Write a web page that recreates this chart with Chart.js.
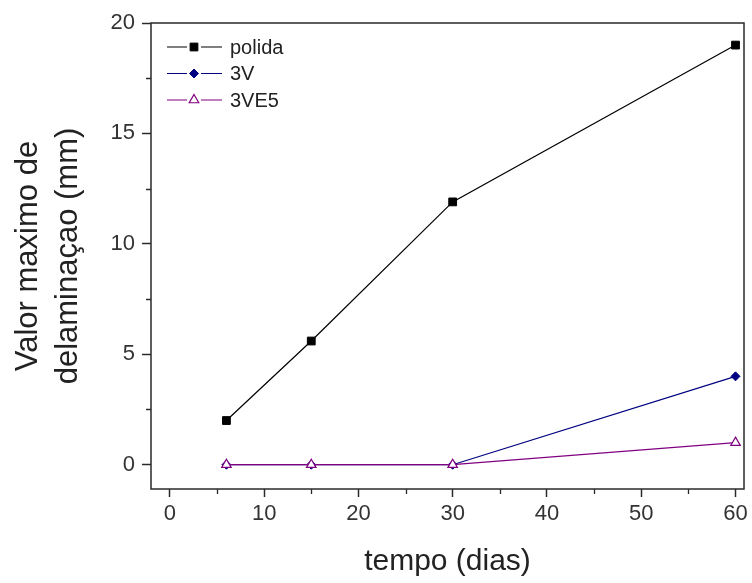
<!DOCTYPE html>
<html>
<head>
<meta charset="utf-8">
<script src="https://cdn.jsdelivr.net/npm/chart.js@4.4.1/dist/chart.umd.min.js"></script>
<style>
html,body{margin:0;padding:0;background:#fff;}
#wrap{width:752px;height:583px;position:relative;}
</style>
</head>
<body>
<div id="wrap"><canvas id="c" width="752" height="583"></canvas></div>
<script>
// ---- data ----
const days = [6, 15, 30, 60];
const polida = [2.0, 5.6, 11.9, 19.0];
const v3 = [0, 0, 0, 4.0];
const ve5 = [0, 0, 0, 1.0];
const seriesNames = ['polida', '3V', '3VE5'];
const xTicks = [0, 10, 20, 30, 40, 50, 60];
const xMinor = [5, 15, 25, 35, 45, 55];
const yTicks = [0, 5, 10, 15, 20];
const yMinor = [2.5, 7.5, 12.5, 17.5];
const xTitle = 'tempo (dias)';
const yTitle = ['Valor maximo de', 'delaminaçao (mm)'];

const FONT = '"Liberation Sans", Arial, sans-serif';
const AXC = '#2a2a2a';

function pts(arr) { return days.map((d, i) => ({ x: d, y: arr[i] })); }

const frameAndExtras = {
  id: 'frameAndExtras',
  afterDraw(chart) {
    const ctx = chart.ctx;
    const a = chart.chartArea;
    const xs = chart.scales.x, ys = chart.scales.y;
    ctx.save();
    // frame
    ctx.strokeStyle = AXC;
    ctx.lineWidth = 1.5;
    ctx.strokeRect(a.left, a.top, a.right - a.left, a.bottom - a.top);
    // minor ticks
    ctx.lineWidth = 1.3;
    ctx.beginPath();
    xMinor.forEach(v => {
      const px = Math.round(xs.getPixelForValue(v)) + 0.5;
      ctx.moveTo(px, a.bottom); ctx.lineTo(px, a.bottom + 5);
    });
    yMinor.forEach(v => {
      const py = Math.round(ys.getPixelForValue(v)) + 0.5;
      ctx.moveTo(a.left, py); ctx.lineTo(a.left - 5, py);
    });
    ctx.stroke();
    // legend
    const lx0 = 167, lx1 = 222, mx = 194, tx = 230;
    chart.data.datasets.forEach((ds, i) => {
      const y = 47 + i * 26.5;
      ctx.strokeStyle = ds.borderColor;
      ctx.lineWidth = ds.borderWidth;
      ctx.beginPath();
      ctx.moveTo(lx0, y); ctx.lineTo(mx - 7, y);
      ctx.moveTo(mx + 7, y); ctx.lineTo(lx1, y);
      ctx.stroke();
      ctx.fillStyle = ds.pointBackgroundColor;
      ctx.strokeStyle = ds.pointBorderColor;
      ctx.lineWidth = ds.pointBorderWidth;
      Chart.helpers.drawPoint(ctx, { pointStyle: ds.pointStyle, radius: ds.pointRadius, borderWidth: ds.pointBorderWidth, rotation: 0 }, mx, y);
      ctx.fillStyle = '#222';
      ctx.font = '20px ' + FONT;
      ctx.textBaseline = 'middle';
      ctx.textAlign = 'left';
      ctx.fillText(ds.label, tx, y + 1);
    });
    ctx.restore();
  }
};

new Chart(document.getElementById('c'), {
  type: 'line',
  data: {
    datasets: [
      {
        label: seriesNames[0], data: pts(polida),
        borderColor: '#000000', borderWidth: 1.2,
        pointStyle: 'rect', pointRadius: 5.5,
        pointBackgroundColor: '#000000', pointBorderColor: '#000000', pointBorderWidth: 1,
        tension: 0, order: 0
      },
      {
        label: seriesNames[1], data: pts(v3),
        borderColor: '#000080', borderWidth: 1.2,
        pointStyle: 'rectRot', pointRadius: 4.5,
        pointBackgroundColor: '#000080', pointBorderColor: '#000080', pointBorderWidth: 1,
        tension: 0, order: 2
      },
      {
        label: seriesNames[2], data: pts(ve5),
        borderColor: '#800080', borderWidth: 1.2,
        pointStyle: 'triangle', pointRadius: 5.5,
        pointBackgroundColor: '#ffffff', pointBorderColor: '#800080', pointBorderWidth: 1.2,
        tension: 0, order: 1
      }
    ]
  },
  options: {
    responsive: false,
    animation: false,
    layout: { padding: { left: 0, right: 8, top: 23, bottom: 0 } },
    plugins: { legend: { display: false }, tooltip: { enabled: false } },
    scales: {
      x: {
        type: 'linear', min: -2, max: 60.9,
        afterBuildTicks: s => { s.ticks = xTicks.map(v => ({ value: v })); },
        afterFit: s => { s.height = 94; },
        grid: { drawOnChartArea: false, drawTicks: true, tickLength: 8, tickColor: AXC, tickWidth: 1.5 },
        border: { display: false },
        ticks: { color: '#333', font: { family: FONT, size: 22 }, padding: 4, maxRotation: 0, autoSkip: false },
        title: { display: true, text: xTitle, color: '#222', font: { family: FONT, size: 30, lineHeight: 1.2 }, padding: { top: 0, bottom: 3 } }
      },
      y: {
        type: 'linear', min: -1.1, max: 20,
        afterBuildTicks: s => { s.ticks = yTicks.map(v => ({ value: v })); },
        afterFit: s => { s.width = 151; },
        grid: { drawOnChartArea: false, drawTicks: true, tickLength: 9, tickColor: AXC, tickWidth: 1.5 },
        border: { display: false },
        ticks: { color: '#333', font: { family: FONT, size: 22 }, padding: 7, autoSkip: false },
        title: { display: true, text: yTitle, color: '#222', font: { family: FONT, size: 31, lineHeight: 1.3 }, padding: { top: 8, bottom: 0 } }
      }
    }
  },
  plugins: [frameAndExtras]
});
</script>
</body>
</html>
